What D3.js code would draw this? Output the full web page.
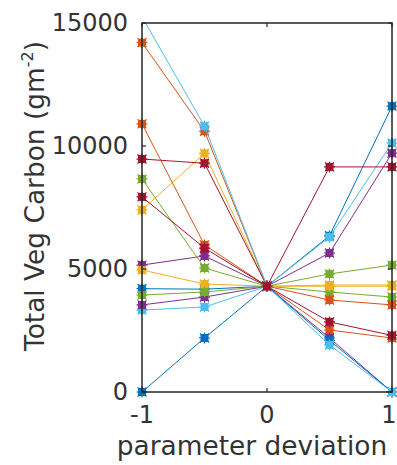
<!DOCTYPE html>
<html>
<head>
<meta charset="utf-8">
<script src="https://cdn.jsdelivr.net/npm/d3@7"></script>
<style>
  html, body { margin: 0; padding: 0; background: #fff; }
  svg { display: block; }
</style>
</head>
<body>
<script>
// ---- data ----
const xValues = [-1, -0.5, 0, 0.5, 1];
const xTicks = [-1, 0, 1];
const yTicks = [0, 5000, 10000, 15000];
const palette = ["#0072BD", "#D95319", "#EDB120", "#7E2F8E", "#77AC30", "#4DBEEE", "#A2142F"];

const s1  = [0, 2195, 4300, 6350, 11620];
const s2  = [14200, 10600, 4300, 2520, 2195];
const s3  = [7400, 9700, 4300, 4350, 4350];
const s4  = [5160, 5530, 4300, 2195, 0];
const s5  = [8660, 5040, 4300, 4065, 3860];
const s6  = [3330, 3455, 4300, 6300, 10120];
const s7  = [9470, 9300, 4300, 9150, 9150];
const s8  = [4200, 4180, 4300, 2100, 0];
const s9  = [10900, 5980, 4300, 3740, 3540];
const s10 = [4960, 4390, 4300, 4300, 4300];
const s11 = [3540, 3860, 4300, 5650, 9710];
const s12 = [3940, 4065, 4300, 4800, 5160];
const s13 = [15250, 10810, 4300, 1910, 0];
const s14 = [7930, 5850, 4300, 2850, 2300];
const seriesList = [s1, s2, s3, s4, s5, s6, s7, s8, s9, s10, s11, s12, s13, s14];

const xLabel = "parameter deviation";
const yLabelMain = "Total Veg Carbon (gm";
const yLabelSup = "-2";

// ---- layout ----
const W = 397, H = 465;
const pL = 142, pR = 392, pT = 23, pB = 392;
const axisColor = "#262626";
const textColor = "#333333";

const svg = d3.select("body").append("svg").attr("width", W).attr("height", H);

const x = d3.scaleLinear().domain([-1, 1]).range([pL, pR]);
const y = d3.scaleLinear().domain([0, 15000]).range([pB, pT]);

svg.append("defs").append("clipPath").attr("id", "plotclip")
  .append("rect").attr("x", pL).attr("y", pT).attr("width", pR - pL).attr("height", pB - pT);

const line = d3.line().x((d, i) => x(xValues[i])).y(d => y(d));

const plot = svg.append("g");
seriesList.forEach((s, k) => {
  const c = palette[k % palette.length];
  plot.append("path").datum(s)
    .attr("d", line)
    .attr("fill", "none")
    .attr("stroke", c)
    .attr("stroke-width", 1)
    .attr("clip-path", "url(#plotclip)");
  const pts = s.map((v, i) => [xValues[i], v]).filter(p => p[1] >= 0 && p[1] <= 15000);
  const g = plot.append("g");
  pts.forEach(p => {
    const cx = x(p[0]), cy = y(p[1]);
    g.append("rect").attr("x", cx - 4).attr("y", cy - 4).attr("width", 8).attr("height", 8).attr("fill", c);
    g.append("path")
      .attr("d", `M${cx-5.5},${cy}H${cx+5.5}M${cx},${cy-5.5}V${cy+5.5}M${cx-4.5},${cy-4.5}L${cx+4.5},${cy+4.5}M${cx-4.5},${cy+4.5}L${cx+4.5},${cy-4.5}`)
      .attr("stroke", c).attr("stroke-width", 1.2).attr("fill", "none");
  });
});

// ---- axes (box) ----
const axG = svg.append("g");
axG.append("rect").attr("x", pL).attr("y", pT).attr("width", pR - pL).attr("height", pB - pT)
  .attr("fill", "none").attr("stroke", axisColor).attr("stroke-width", 1.5);

const tickLen = 4;
xTicks.forEach(t => {
  axG.append("line").attr("x1", x(t)).attr("x2", x(t)).attr("y1", pB).attr("y2", pB - tickLen)
    .attr("stroke", axisColor).attr("stroke-width", 1.2);
  axG.append("line").attr("x1", x(t)).attr("x2", x(t)).attr("y1", pT).attr("y2", pT + tickLen)
    .attr("stroke", axisColor).attr("stroke-width", 1.2);
  axG.append("text").attr("x", Math.min(x(t), 389)).attr("y", 423)
    .attr("text-anchor", "middle")
    .attr("font-family", "DejaVu Sans").attr("font-size", 24).attr("fill", textColor)
    .text(t);
});
yTicks.forEach(t => {
  axG.append("line").attr("x1", pL).attr("x2", pL + tickLen).attr("y1", y(t)).attr("y2", y(t))
    .attr("stroke", axisColor).attr("stroke-width", 1.2);
  axG.append("line").attr("x1", pR).attr("x2", pR - tickLen).attr("y1", y(t)).attr("y2", y(t))
    .attr("stroke", axisColor).attr("stroke-width", 1.2);
  axG.append("text").attr("x", 128).attr("y", y(t))
    .attr("text-anchor", "end").attr("dominant-baseline", "central")
    .attr("font-family", "DejaVu Sans").attr("font-size", 24).attr("fill", textColor)
    .text(t);
});

svg.append("text").attr("x", 252).attr("y", 455)
  .attr("text-anchor", "middle")
  .attr("font-family", "DejaVu Sans").attr("font-size", 26.4).attr("fill", textColor)
  .text(xLabel);

const yl = svg.append("text")
  .attr("transform", "translate(44,196) rotate(-90)")
  .attr("text-anchor", "middle")
  .attr("font-family", "DejaVu Sans").attr("font-size", 26.4).attr("fill", textColor);
yl.append("tspan").text(yLabelMain);
yl.append("tspan").attr("font-size", 16).attr("dy", -11).text(yLabelSup);
yl.append("tspan").attr("dy", 11).text(")");
</script>
</body>
</html>
